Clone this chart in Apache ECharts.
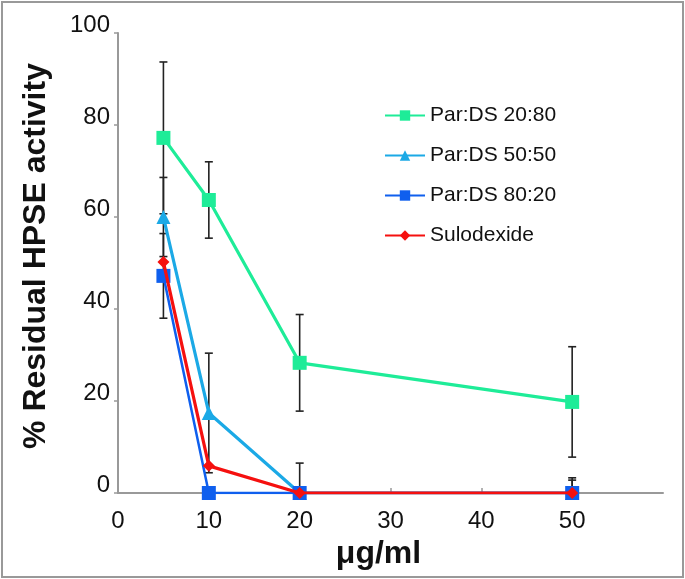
<!DOCTYPE html>
<html lang="en">

<head>
    <meta charset="UTF-8">
    <script src="https://cdn.jsdelivr.net/npm/echarts@6/dist/echarts.min.js"></script>
    <title>Residual HPSE activity</title>
</head>

<body style="margin:0;background:#fff;">
    <div id="main" style="width: 685px;height:579px;"></div>

    <script>
        // concentrations (ug/ml)
        var doses = [5, 10, 20, 50];

        var names = ['Par:DS 20:80', 'Par:DS 50:50', 'Par:DS 80:20', 'Sulodexide'];
        var colors = ['#1eec98', '#1ba9e6', '#0f5fee', '#f5100f'];
        var symbols = ['rect', 'triangle', 'rect', 'diamond'];

        var par2080 = [77.2, 63.7, 28.3, 19.8];
        var par5050 = [60.0, 17.4, 0, 0];
        var par8020 = [47.2, 0, 0, 0];
        var sulodexide = [50.2, 5.9, 0, 0];

        // +/- error
        var err2080 = [16.5, 8.3, 10.5, 12.0];
        var err5050 = [8.6, 13.0, 6.5, 3.3];
        var err8020 = [9.2, 0, 0, 2.8];
        var errSulo = [0, 0, 0, 0];

        var values = [par2080, par5050, par8020, sulodexide];
        var errors = [err2080, err5050, err8020, errSulo];

        var errData = [];
        for (var s = 0; s < values.length; s++) {
            for (var i = 0; i < doses.length; i++) {
                if (errors[s][i] > 0) {
                    // nothing below the axis
                    errData.push([doses[i], Math.max(0, values[s][i] - errors[s][i]), values[s][i] + errors[s][i]]);
                }
            }
        }

        var myChart = echarts.init(document.getElementById('main'));

        var series = [{
            type: 'custom',
            z: 1,
            silent: true,
            data: errData,
            renderItem: function (params, api) {
                var lo = api.coord([api.value(0), api.value(1)]);
                var hi = api.coord([api.value(0), api.value(2)]);
                var st = { stroke: '#222', lineWidth: 1.6 };
                var kids = [
                    { type: 'line', shape: { x1: lo[0], y1: lo[1], x2: hi[0], y2: hi[1] }, style: st },
                    { type: 'line', shape: { x1: hi[0] - 4, y1: hi[1], x2: hi[0] + 4, y2: hi[1] }, style: st }
                ];
                if (api.value(1) > 0) {
                    kids.push({ type: 'line', shape: { x1: lo[0] - 4, y1: lo[1], x2: lo[0] + 4, y2: lo[1] }, style: st });
                }
                return { type: 'group', children: kids };
            }
        }];

        for (var s = 0; s < values.length; s++) {
            series.push({
                name: names[s],
                type: 'line',
                z: 2 + s,
                data: doses.map(function (d, i) { return [d, values[s][i]]; }),
                symbol: symbols[s],
                symbolSize: s == 3 ? 12 : 14,
                color: colors[s],
                lineStyle: { width: s == 2 ? 2.5 : 3.2 },
                itemStyle: { color: colors[s] }
            });
        }

        var option = {
            animation: false,
            backgroundColor: '#fff',
            graphic: [{
                type: 'rect',
                shape: { x: 2, y: 2, width: 681, height: 575 },
                style: { fill: 'none', stroke: '#999', lineWidth: 2 }
            }],
            grid: { left: 118, right: 22, top: 33, bottom: 86 },
            legend: {
                data: names,
                orient: 'vertical',
                left: 379,
                top: 100,
                itemWidth: 40,
                itemHeight: 13,
                itemGap: 19,
                textStyle: { fontFamily: 'Liberation Sans', fontSize: 21, color: '#111' }
            },
            xAxis: {
                type: 'value',
                min: 0,
                max: 60,
                interval: 10,
                name: 'μg/ml',
                nameLocation: 'middle',
                nameGap: 42,
                nameTextStyle: { fontFamily: 'Liberation Sans', fontSize: 32, fontWeight: 'bold', color: '#111', padding: [0, 24, 0, 0] },
                axisLine: { lineStyle: { color: '#999', width: 2 } },
                axisTick: { inside: true, length: 5, lineStyle: { color: '#999', width: 1.5 } },
                axisLabel: { showMaxLabel: false, margin: 16, fontFamily: 'Liberation Sans', fontSize: 24, color: '#111' },
                splitLine: { show: false }
            },
            yAxis: {
                type: 'value',
                min: 0,
                max: 100,
                interval: 20,
                name: '% Residual HPSE activity',
                nameLocation: 'middle',
                nameGap: 66,
                nameTextStyle: { fontFamily: 'Liberation Sans', fontSize: 32, fontWeight: 'bold', color: '#111', padding: [0, 0, 0, 14] },
                axisLine: { show: true, lineStyle: { color: '#999', width: 2 } },
                axisTick: { show: true, length: 4, lineStyle: { color: '#999', width: 1.5 } },
                axisLabel: { margin: 8, fontFamily: 'Liberation Sans', fontSize: 24, color: '#111', verticalAlign: 'bottom', lineHeight: 16 },
                splitLine: { show: false }
            },
            series: series
        };

        myChart.setOption(option);
    </script>

</body>

</html>
